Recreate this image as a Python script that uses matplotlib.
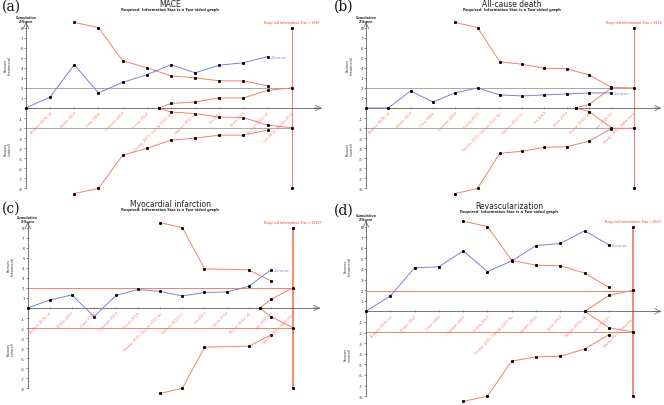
import matplotlib
matplotlib.use('Agg')
import matplotlib.pyplot as plt

# ---- data ----
titles = ["MACE", "All-cause death", "Myocardial infarction", "Revascularization"]
panel_tags = ["(a)", "(b)", "(c)", "(d)"]
ris_values = [4997, 8116, 32217, 4930]

# cumulative Z-curve (study index 0..n)
z_a = [0, 1.1, 4.3, 1.5, 2.55, 3.3, 4.3, 3.5, 4.25, 4.5, 5.1]
z_b = [0, 0, 1.7, 0.6, 1.5, 2.0, 1.3, 1.2, 1.3, 1.4, 1.5, 1.5]
z_c = [0, 0.8, 1.3, -0.85, 1.25, 1.85, 1.65, 1.2, 1.55, 1.6, 2.15, 3.8]
z_d = [0, 1.45, 4.1, 4.2, 5.7, 3.75, 4.75, 6.2, 6.4, 7.6, 6.25]

# monitoring boundaries (benefit / harm)
up_x_a = [2, 3, 4, 5, 6, 7, 8, 9, 10]
up_a = [8.5, 8.0, 4.7, 4.0, 3.2, 3.0, 2.7, 2.7, 2.2]
lo_a = [-8.5, -8.0, -4.7, -4.0, -3.2, -3.0, -2.7, -2.7, -2.2]
up_x_b = [4, 5, 6, 7, 8, 9, 10, 11, 12]
up_b = [8.5, 8.0, 4.6, 4.35, 3.95, 3.9, 3.3, 2.05, 2.0]
lo_b = [-8.5, -8.0, -4.5, -4.3, -3.9, -3.85, -3.3, -2.05, -2.0]
up_x_c = [6, 7, 8, 10, 11]
up_c = [8.5, 8.0, 3.9, 3.8, 2.7]
lo_c = [-8.5, -8.0, -3.9, -3.8, -2.7]
up_x_d = [4, 5, 6, 7, 8, 9, 10]
up_d = [8.5, 8.0, 4.8, 4.35, 4.3, 3.6, 2.25]
lo_d = [-8.5, -8.0, -4.7, -4.3, -4.25, -3.55, -2.2]

# futility (inner wedge) boundaries
fut_x_a = [5.5, 6, 7, 8, 9, 10, 11]
fut_up_a = [0, 0.45, 0.6, 1.0, 1.0, 1.75, 2.0]
fut_lo_a = [0, -0.4, -0.55, -0.9, -0.95, -1.7, -1.96]
fut_x_b = [9.4, 10, 11]
fut_up_b = [0, 0.35, 2.0]
fut_lo_b = [0, -0.35, -1.96]
fut_x_c = [10.5, 11, 12]
fut_up_c = [0, 0.85, 2.0]
fut_lo_c = [0, -0.85, -1.96]
fut_x_d = [9, 10, 11]
fut_up_d = [0, 1.5, 2.0]
fut_lo_d = [0, -1.55, -1.96]

ris_x = [11, 12, 12, 11]

labels_a = ["Anders 2006 (a)", "Baker 2007", "Chen 2008", "Dawson 2009", "Evans 2010",
            "Fischer 2011; Garcia 2011 (b)", "Hansen 2012 (c)", "Ito 2013", "Jones 2014",
            "Kumar 2015 (d)", "Lee 2016; Martin 2016"]
labels_b = ["Anders 2006 (a)", "Baker 2007", "Chen 2008", "Dawson 2009", "Evans 2010",
            "Fischer 2011; Garcia 2011 (b)", "Hansen 2012 (c)", "Ito 2013", "Jones 2014",
            "Kumar 2015 (d)", "Lee 2016 (e)", "Martin 2017; Nakamura"]
labels_c = ["Anders 2006 (a)", "Baker 2007", "Chen 2008", "Dawson 2009", "Evans 2010",
            "Fischer 2011; Garcia 2011 (b)", "Hansen 2012 (c)", "Ito 2013", "Jones 2014",
            "Kumar 2015 (d)", "Lee 2016 (e)", "Martin 2017; Nakamura"]
labels_d = ["Anders 2006 (a)", "Baker 2007", "Chen 2008", "Dawson 2009", "Evans 2010",
            "Fischer 2011; Garcia 2011 (b)", "Hansen 2012", "Jones 2014",
            "Kumar 2015 (d)", "Lee 2016 (e)", "Martin 2017; Nakamura"]

# ---- styling ----
RED = '#f3806c'
BLUE = '#7b82d6'
GREY = '#a8a8a8'
AX = '#606060'
W, H = 664, 406

fig = plt.figure(figsize=(W / 100, H / 100), dpi=100)
fig.patch.set_facecolor('white')

# (origin px x, origin px y, px per study, px per z unit, x arrow end, colour of +/-1.96 lines)
layout = [
    (26.0, 109.0, 24.15, 10.06, 12.2, GREY),
    (366.0, 109.0, 22.3, 10.06, 13.2, GREY),
    (27.7, 309.0, 22.1, 10.04, 13.2, RED),
    (366.0, 312.3, 24.3, 10.6, 12.1, RED),
]

zs = [z_a, z_b, z_c, z_d]
ups = [(up_x_a, up_a, lo_a), (up_x_b, up_b, lo_b), (up_x_c, up_c, lo_c), (up_x_d, up_d, lo_d)]
futs = [(fut_x_a, fut_up_a, fut_lo_a), (fut_x_b, fut_up_b, fut_lo_b),
        (fut_x_c, fut_up_c, fut_lo_c), (fut_x_d, fut_up_d, fut_lo_d)]
labs = [labels_a, labels_b, labels_c, labels_d]
mk = dict(marker='s', ms=1.1, mfc='k', mec='k')

for i in range(4):
    ox, oy, sx, sy, xend, hcol = layout[i]
    xmin, xmax, ymin, ymax = -1.0, xend + 0.3, -9.3, 9.6
    left = ox + xmin * sx
    right = ox + xmax * sx
    top = oy - ymax * sy
    bottom = oy - ymin * sy
    ax = fig.add_axes([left / W, 1 - bottom / H, (right - left) / W, (bottom - top) / H])
    ax.set_xlim(xmin, xmax)
    ax.set_ylim(ymin, ymax)
    ax.patch.set_alpha(0)
    for s in ['top', 'right']:
        ax.spines[s].set_visible(False)
    ax.spines['left'].set_position(('data', 0))
    ax.spines['bottom'].set_position(('data', 0))
    ax.spines['left'].set_bounds(-8, 8.6)
    ax.spines['bottom'].set_bounds(0, xend)
    for s in ['left', 'bottom']:
        ax.spines[s].set_color(AX)
        ax.spines[s].set_linewidth(0.6)
    yt = [v for v in range(-8, 9) if v != 0]
    ax.set_yticks(yt)
    ax.set_yticklabels([str(v) for v in yt])
    n_lab = len(labs[i])
    ax.set_xticks(range(1, n_lab + 1))
    ax.set_xticklabels([])
    ax.tick_params(axis='y', labelsize=2.8, length=1.2, width=0.4, pad=1, colors='#333333')
    ax.tick_params(axis='x', length=1.2, width=0.4, direction='inout', colors=AX)

    # arrow heads
    ax.annotate('', xy=(0, 8.8), xytext=(0, 8.2),
                arrowprops=dict(arrowstyle='->', lw=0.5, color=AX))
    ax.annotate('', xy=(xend + 0.15, 0), xytext=(xend - 0.4, 0),
                arrowprops=dict(arrowstyle='->', lw=0.5, color=AX))

    # conventional +/-1.96 lines
    ax.plot([0, ris_x[i]], [1.96, 1.96], color=hcol, lw=0.7, zorder=1)
    ax.plot([0, ris_x[i]], [-1.96, -1.96], color=hcol, lw=0.7, zorder=1)

    # required information size line
    ax.plot([ris_x[i], ris_x[i]], [-8, 8], color=RED, lw=0.7 if i < 2 else 1.3, zorder=2, **mk)
    ax.text(ris_x[i], 8.35, "Required Information Size = %d" % ris_values[i],
            color=RED, fontsize=2.1, ha='center', va='bottom', fontweight='bold')

    # monitoring boundaries
    bx, bu, bl = ups[i]
    ax.plot(bx, bu, color=RED, lw=0.7, zorder=3, **mk)
    ax.plot(bx, bl, color=RED, lw=0.7, zorder=3, **mk)
    fx, fu, fl = futs[i]
    ax.plot(fx, fu, color=RED, lw=0.7, zorder=3, **mk)
    ax.plot(fx, fl, color=RED, lw=0.7, zorder=3, **mk)

    # Z-curve
    z = zs[i]
    ax.plot(range(len(z)), z, color=BLUE, lw=0.7, zorder=4, **mk)
    ax.text(len(z) - 1 + 0.12, z[-1], "Z-curve", color=BLUE, fontsize=3.0,
            ha='left', va='center')

    # study labels
    for k, lab in enumerate(labs[i]):
        ax.text(k + 1, -0.25, lab, color=RED, fontsize=2.6, rotation=45,
                rotation_mode='anchor', ha='right', va='top')

    # axis titles
    ax.text(0, 9.25, "Cumulative\nZ-Score", fontsize=2.4, ha='center', va='top',
            color='#333333', fontweight='bold', linespacing=1.0)
    ax.text(-0.75, 4.3, "Favours\n(treatment)", fontsize=2.4, rotation=90, ha='center',
            va='center', color='#333333', linespacing=1.0)
    ax.text(-0.75, -4.0, "Favours\n(control)", fontsize=2.4, rotation=90, ha='center',
            va='center', color='#333333', linespacing=1.0)

# panel titles and tags (figure pixel coordinates)
title_pos = [(170, 4.5), (512, 4.5), (170, 205), (509, 207)]
tag_pos = [(2, 0), (334, 0), (2, 202), (334, 204)]
for i in range(4):
    tx, ty = title_pos[i]
    fig.text(tx / W, 1 - ty / H, titles[i], fontsize=5.5, ha='center', va='center', color='#222222')
    fig.text(tx / W, 1 - (ty + 5.5) / H, "Required  Information Size is a Two-sided graph",
             fontsize=2.6, ha='center', va='center', fontweight='bold', color='#222222')
    gx, gy = tag_pos[i]
    fig.text(gx / W, 1 - gy / H, panel_tags[i], fontsize=10, ha='left', va='top',
             family='DejaVu Serif', color='#111111')

fig.savefig('out.png', dpi=100)
